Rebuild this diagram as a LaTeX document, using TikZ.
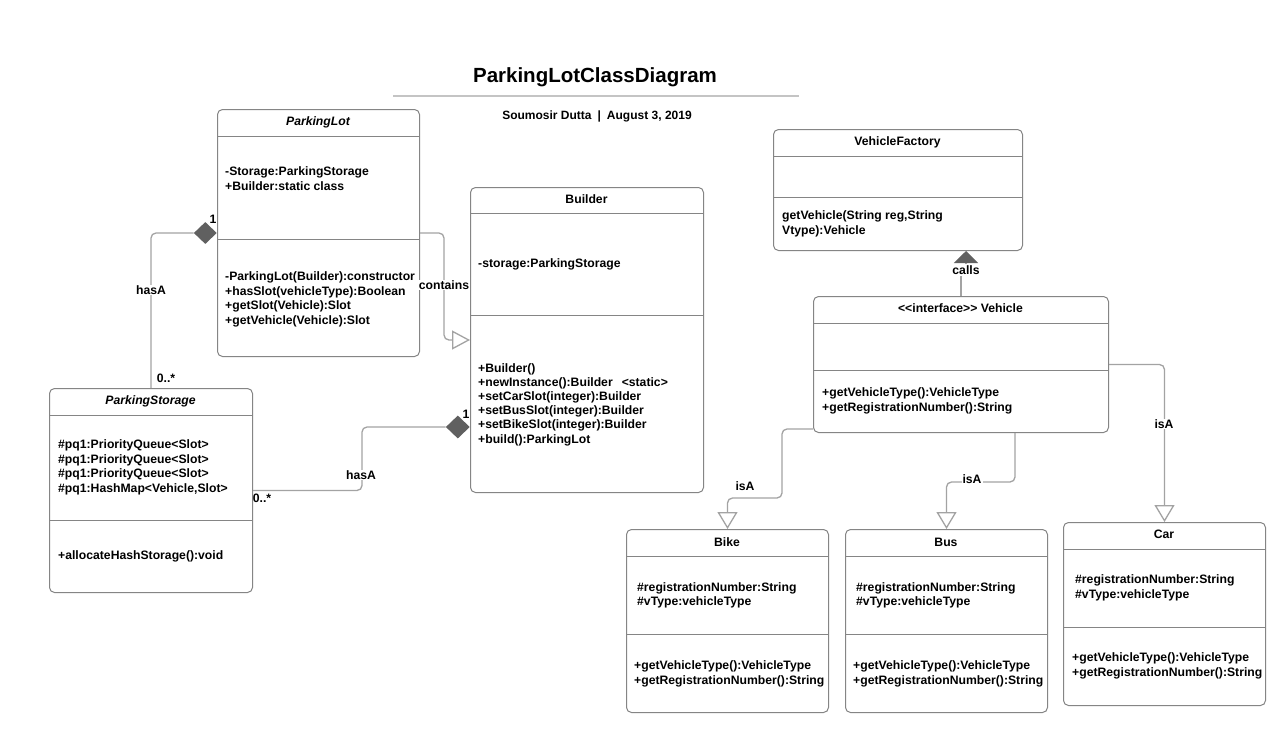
\documentclass[tikz,border=0pt]{standalone}
\usepackage{fontspec}
\setmainfont{Liberation Sans}
\usetikzlibrary{arrows.meta,shapes.geometric}
\definecolor{boxc}{HTML}{858585}
\definecolor{linec}{HTML}{A3A3A3}
\definecolor{diac}{HTML}{606060}
\definecolor{rulec}{HTML}{C4C4C4}
\begin{document}
\begin{tikzpicture}[x=1pt,y=-1pt,
  classbox/.style={draw=boxc, line width=1pt, rounded corners=5pt, fill=white, anchor=north west, inner sep=0pt},
  sepline/.style={draw=boxc, line width=0.9pt},
  txt/.style={font=\fontsize{12.2}{14}\selectfont\bfseries, inner sep=0pt, anchor=base west},
  hdr/.style={font=\fontsize{12.2}{14}\selectfont\bfseries, inner sep=0pt, anchor=base},
  lbl/.style={font=\fontsize{12.2}{14}\selectfont\bfseries, inner sep=1pt, fill=white},
  mult/.style={font=\fontsize{12.2}{14}\selectfont\bfseries, inner sep=0pt},
  conn/.style={draw=linec, line width=1.3pt, rounded corners=5pt},
  diam/.style={diamond, fill=diac, draw=none, inner sep=0pt, anchor=east},
  opentri/.style={-{Triangle[open, length=17pt, width=20pt, fill=white]}},
]
\useasboundingbox (0,0) rectangle (1280,742);
\fill[white] (0,0) rectangle (1280,742);

% title
\node[font=\fontsize{20.5}{24}\selectfont\bfseries, inner sep=0pt, anchor=base] (title) at (595,82) {ParkingLotClassDiagram};
\draw[rulec, line width=2pt] (393,96) -- (799,96);
\node[font=\fontsize{12}{14}\selectfont\bfseries, inner sep=0pt, anchor=base] (subtitle) at (597,119) {Soumosir Dutta\hspace{6pt}|\hspace{6pt}August 3, 2019};

% ParkingLot
\node[classbox, minimum width=202, minimum height=247] (pl) at (217,109) {};
\draw[sepline] (pl.west |- 0,136) -- (pl.east |- 0,136);
\draw[sepline] (pl.west |- 0,239) -- (pl.east |- 0,239);
\node[hdr] (plh) at (318,125.5) {\itshape ParkingLot};
\foreach \t [count=\i from 0] in {{-Storage:ParkingStorage},{+Builder:static class}}
  \node[txt] (pla\i) at (225,{175.5+14.5*\i}) {\t};
\foreach \t [count=\i from 0] in {{-ParkingLot(Builder):constructor},{+hasSlot(vehicleType):Boolean},{+getSlot(Vehicle):Slot},{+getVehicle(Vehicle):Slot}}
  \node[txt] (plm\i) at (225,{280.5+14.5*\i}) {\t};

% Builder
\node[classbox, minimum width=233, minimum height=305] (bd) at (470,187) {};
\draw[sepline] (bd.west |- 0,213) -- (bd.east |- 0,213);
\draw[sepline] (bd.west |- 0,315) -- (bd.east |- 0,315);
\node[hdr] (bdh) at (586.5,203.5) {Builder};
\node[txt] (bda0) at (478,267.5) {-storage:ParkingStorage};
\foreach \t [count=\i from 0] in {{+Builder()},{+newInstance():Builder\hspace{9pt}<static>},{+setCarSlot(integer):Builder},{+setBusSlot(integer):Builder},{+setBikeSlot(integer):Builder},{+build():ParkingLot}}
  \node[txt] (bdm\i) at (478,{372+14.2*\i}) {\t};

% ParkingStorage
\node[classbox, minimum width=203, minimum height=204] (ps) at (49,388) {};
\draw[sepline] (ps.west |- 0,415) -- (ps.east |- 0,415);
\draw[sepline] (ps.west |- 0,520) -- (ps.east |- 0,520);
\node[hdr] (psh) at (150.5,404.5) {\itshape ParkingStorage};
\foreach \t [count=\i from 0] in {{\#pq1:PriorityQueue<Slot>},{\#pq1:PriorityQueue<Slot>},{\#pq1:PriorityQueue<Slot>},{\#pq1:HashMap<Vehicle,Slot>}}
  \node[txt] (psa\i) at (58,{448.5+14.5*\i}) {\t};
\node[txt] (psm0) at (58,559.5) {+allocateHashStorage():void};

% VehicleFactory
\node[classbox, minimum width=249, minimum height=121] (vf) at (773,129) {};
\draw[sepline] (vf.west |- 0,156) -- (vf.east |- 0,156);
\draw[sepline] (vf.west |- 0,197) -- (vf.east |- 0,197);
\node[hdr] (vfh) at (897.5,145.5) {VehicleFactory};
\node[txt] (vfm0) at (782,219.5) {getVehicle(String reg,String};
\node[txt] (vfm1) at (782,234) {Vtype):Vehicle};

% Vehicle interface
\node[classbox, minimum width=295, minimum height=136] (vh) at (813,296) {};
\draw[sepline] (vh.west |- 0,323) -- (vh.east |- 0,323);
\draw[sepline] (vh.west |- 0,370) -- (vh.east |- 0,370);
\node[hdr] (vhh) at (960.5,312.5) {<{}<interface>{}> Vehicle};
\node[txt] (vhm0) at (822,396.5) {+getVehicleType():VehicleType};
\node[txt] (vhm1) at (822,411) {+getRegistrationNumber():String};

% Bike
\node[classbox, minimum width=202, minimum height=183] (bk) at (626,529) {};
\draw[sepline] (bk.west |- 0,556) -- (bk.east |- 0,556);
\draw[sepline] (bk.west |- 0,634) -- (bk.east |- 0,634);
\node[hdr] (bkh) at (727,546) {Bike};
\node[txt] (bka0) at (637,591) {\#registrationNumber:String};
\node[txt] (bka1) at (637,605.5) {\#vType:vehicleType};
\node[txt] (bkm0) at (634,669.5) {+getVehicleType():VehicleType};
\node[txt] (bkm1) at (634,684) {+getRegistrationNumber():String};

% Bus
\node[classbox, minimum width=202, minimum height=183] (bs) at (845,529) {};
\draw[sepline] (bs.west |- 0,556) -- (bs.east |- 0,556);
\draw[sepline] (bs.west |- 0,634) -- (bs.east |- 0,634);
\node[hdr] (bsh) at (946,546) {Bus};
\node[txt] (bsa0) at (856,591) {\#registrationNumber:String};
\node[txt] (bsa1) at (856,605.5) {\#vType:vehicleType};
\node[txt] (bsm0) at (853,669.5) {+getVehicleType():VehicleType};
\node[txt] (bsm1) at (853,684) {+getRegistrationNumber():String};

% Car
\node[classbox, minimum width=202, minimum height=183] (cr) at (1063,522) {};
\draw[sepline] (cr.west |- 0,549) -- (cr.east |- 0,549);
\draw[sepline] (cr.west |- 0,627) -- (cr.east |- 0,627);
\node[hdr] (crh) at (1164,538) {Car};
\node[txt] (cra0) at (1075,583.5) {\#registrationNumber:String};
\node[txt] (cra1) at (1075,598) {\#vType:vehicleType};
\node[txt] (crm0) at (1072,661.5) {+getVehicleType():VehicleType};
\node[txt] (crm1) at (1072,676) {+getRegistrationNumber():String};

% ParkingStorage -> ParkingLot (hasA)
\node[diam, minimum width=23, minimum height=22] (d1) at (pl.west) {};
\draw[conn] (ps.north) |- (d1.west);
\node[lbl] (l1) at (151,290) {hasA};
\node[mult] (m1a) at (213,219) {1};
\node[mult] (m1b) at (166,378) {0..*};

% ParkingStorage -> Builder (hasA)
\node[diam, minimum width=24, minimum height=23] (d2) at (bd.west |- 0,427) {};
\draw[conn] (ps.east) -- ++(109,0) |- (d2.west);
\node[lbl] (l2) at (361,475) {hasA};
\node[mult] (m2a) at (466,414) {1};
\node[mult] (m2b) at (262,498) {0..*};

% ParkingLot contains Builder
\draw[conn, -{Triangle[open, length=18pt, width=19pt, fill=white]}] (pl.east) -- ++(24,0) |- (bd.west);
\node[lbl] (l3) at (444,285) {contains};

% Vehicle calls VehicleFactory
\node[lbl] (l4) at (966,270) {calls};
\draw[conn] (vh.north) -- (vh.north |- l4.south);
\draw[conn, -{Triangle[length=12pt, width=24pt, color=diac]}] (l4.north) -- (l4.north |- vf.south);

% isA connectors
\draw[conn, opentri] ([yshift=4pt]vh.south west) -- ++(-31,0) -- ++(0,69) -| (bk.north);
\node[lbl] (l5) at (745,486) {isA};
\draw[conn, opentri] ([xshift=54pt]vh.south) -- ++(0,49) -| (bs.north);
\node[lbl] (l6) at (972,479) {isA};
\draw[conn, opentri] (vh.east) -| (cr.north);
\node[lbl] (l7) at (1164,424) {isA};
\end{tikzpicture}
\end{document}
